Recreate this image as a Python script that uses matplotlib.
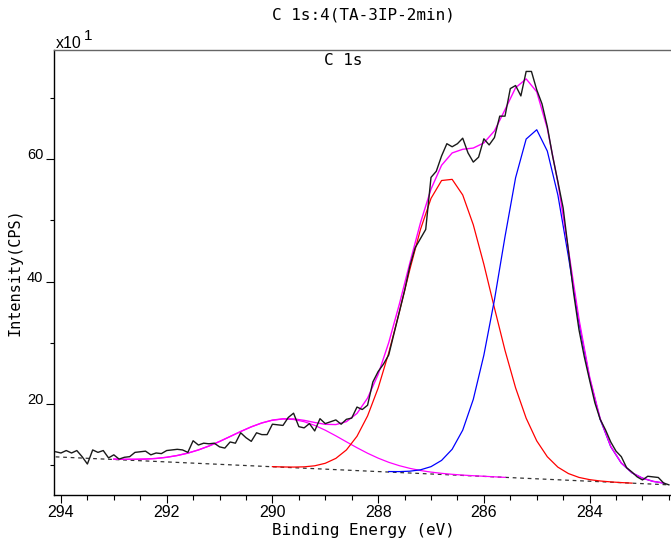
#!/usr/bin/env python3
# -*- coding: utf-8 -*-
"""XPS C 1s 拟合谱图 (TA-3IP-2min)"""

import numpy as np
import matplotlib
matplotlib.use("Agg")
import matplotlib.pyplot as plt
from matplotlib.ticker import MultipleLocator

# ==========================================
# 1. 数据 (从原图读取, 单位 x10 CPS)
# ==========================================
raw_start = 294.1       # 原始谱, 0.1 eV 步长
raw_counts = [
    12.2, 12.0, 12.4, 12.0, 12.4, 11.4, 10.2, 12.5, 12.1, 12.4,
    11.2, 11.7, 11.0, 11.3, 11.4, 12.1, 12.2, 12.3, 11.7, 12.0,
    11.9, 12.4, 12.5, 12.6, 12.5, 12.1, 14.0, 13.3, 13.6, 13.5,
    13.6, 13.0, 12.8, 13.8, 13.6, 15.3, 14.5, 13.9, 15.3, 15.0,
    15.0, 16.7, 16.6, 16.5, 17.8, 18.5, 16.3, 16.1, 16.8, 15.6,
    17.6, 16.8, 17.1, 17.4, 16.7, 17.5, 17.7, 19.5, 19.1, 19.8,
    23.6, 25.3, 26.5, 28.0, 31.5, 35.0, 38.5, 42.5, 45.5, 47.0,
    48.5, 57.0, 58.0, 60.5, 62.5, 62.0, 62.5, 63.4, 61.0, 59.5,
    60.3, 63.3, 62.3, 63.5, 67.0, 67.0, 71.5, 72.0, 70.3, 74.3,
    74.3, 71.3, 69.0, 65.3, 60.5, 56.3, 52.0, 45.0, 38.0, 32.1,
    27.7, 23.9, 20.2, 17.5, 15.8, 13.8, 12.3, 11.4, 9.6, 8.9,
    8.1, 7.6, 8.2, 8.1, 8.0, 7.1, 6.8,
]

# 拟合曲线, 0.2 eV 步长 (含背景)
red_start = 290.0
red_counts = [
    9.77, 9.72, 9.70, 9.74, 9.91, 10.32, 11.12, 12.50, 14.73, 18.05,
    22.60, 28.34, 34.99, 41.97, 48.48, 53.57, 56.49, 56.68, 54.13, 49.26,
    42.81, 35.68, 28.75, 22.64, 17.68, 13.98, 11.39, 9.69, 8.64, 8.01,
    7.65, 7.43, 7.28, 7.17, 7.08,
]

blue_start = 287.8
blue_counts = [
    8.97, 8.96, 9.03, 9.25, 9.77, 10.79, 12.61, 15.73, 20.76, 27.98,
    37.00, 47.32, 56.94, 63.26, 64.78, 61.30, 54.12, 44.04, 33.26, 24.19,
    17.51, 13.03, 10.35, 8.77, 7.89, 7.37, 7.09,
]

mag_start = 293.0
mag_counts = [
    11.00, 10.97, 10.97, 11.01, 11.11, 11.30, 11.59, 11.98, 12.50, 13.14,
    13.88, 14.69, 15.51, 16.27, 16.90, 17.35, 17.55, 17.47, 17.11, 16.51,
    15.72, 14.80, 13.82, 12.86, 11.96, 11.16, 10.48, 9.93, 9.49, 9.14,
    8.88, 8.68, 8.52, 8.39, 8.29, 8.20, 8.11, 8.02,
]

env_start = 293.0
env_counts = [
    11.00, 10.97, 10.97, 11.01, 11.11, 11.30, 11.59, 11.98, 12.50, 13.14,
    13.88, 14.69, 15.51, 16.27, 16.91, 17.37, 17.59, 17.57, 17.33, 16.98,
    16.68, 16.64, 17.12, 18.46, 20.96, 24.83, 30.01, 36.26, 43.03, 49.57,
    55.08, 58.98, 60.99, 61.59, 61.79, 62.63, 64.59, 68.05, 71.64, 73.08,
    70.98, 64.99, 56.19, 45.14, 33.81, 24.45, 17.63, 13.08, 10.37, 8.78,
    7.89, 7.37, 7.09,
]

bg_energy = [294.1, 282.5]
bg_counts = [11.37, 6.80]


def grid(start, step, n):
    return np.round(start - step * np.arange(n), 2)


# ==========================================
# 2. 画布
# ==========================================
W, H = 671, 542
fig = plt.figure(figsize=(W / 100, H / 100), dpi=100)
ax = fig.add_axes([54.3 / W, 1 - 494.7 / H, (W - 54.3) / W, (494.7 - 50) / H])

MONO = "DejaVu Sans Mono"
SANS = "Liberation Sans"

ax.plot(bg_energy, bg_counts, color="#333333", lw=0.9, ls=(0, (3, 3)), zorder=2)
ax.plot(grid(mag_start, 0.2, len(mag_counts)), mag_counts, color="#ff00ff", lw=0.9, zorder=3)
ax.plot(grid(red_start, 0.2, len(red_counts)), red_counts, color="#ff0000", lw=0.9, zorder=3)
ax.plot(grid(blue_start, 0.2, len(blue_counts)), blue_counts, color="#0000ff", lw=0.9, zorder=3)
ax.plot(grid(env_start, 0.2, len(env_counts)), env_counts, color="#ff00ff", lw=1.0, zorder=4)
ax.plot(grid(raw_start, 0.1, len(raw_counts)), raw_counts, color="#1a1a1a", lw=1.0, zorder=5)

ax.set_xlim(294.126, 282.46)
ax.set_ylim(5.19, 77.8)

# 坐标轴样式
ax.spines["right"].set_visible(False)
ax.spines["top"].set_color("#666666")
for side in ("left", "bottom", "top"):
    ax.spines[side].set_linewidth(1.0)

ax.xaxis.set_major_locator(MultipleLocator(2))
ax.xaxis.set_minor_locator(MultipleLocator(0.5))
ax.yaxis.set_major_locator(MultipleLocator(20))
ax.yaxis.set_minor_locator(MultipleLocator(10))
ax.xaxis.set_major_formatter(plt.FuncFormatter(lambda v, p: f"{v:.0f}"))
ax.yaxis.set_major_formatter(plt.FuncFormatter(lambda v, p: f"{v:.0f}"))

ax.tick_params(axis="x", which="major", direction="out", length=5.5, width=0.8, pad=2)
ax.tick_params(axis="x", which="minor", direction="out", length=3.4, width=0.8)
ax.tick_params(axis="y", which="major", direction="out", length=5.5, width=0.8, pad=2.5)
ax.tick_params(axis="y", which="minor", direction="out", length=3.1, width=0.8)
for t in ax.get_xticklabels():
    t.set_fontfamily(SANS)
    t.set_fontsize(11.5)
for t in ax.get_yticklabels():
    t.set_fontfamily(SANS)
    t.set_fontsize(10.5)
    t.set_verticalalignment("baseline")


def px(x, y):
    return x / W, 1 - y / H


# 文字
fig.text(*px(363, 15), "C 1s:4(TA-3IP-2min)", family=MONO, fontsize=11.5,
         ha="center", va="center")
fig.text(*px(343, 60), "C 1s", family=MONO, fontsize=11.5, ha="center", va="center")
fig.text(*px(363, 530), "Binding Energy (eV)", family=MONO, fontsize=11.5,
         ha="center", va="center")
fig.text(*px(15.5, 272.5), "Intensity(CPS)", family=MONO, fontsize=11,
         rotation=90, ha="center", va="center")
fig.text(*px(56, 48.3), "x10", family=SANS, fontsize=11.5, ha="left", va="baseline")
fig.text(*px(83.5, 39.5), "1", family=SANS, fontsize=11, ha="left", va="baseline")

fig.savefig("out.png", dpi=100)
